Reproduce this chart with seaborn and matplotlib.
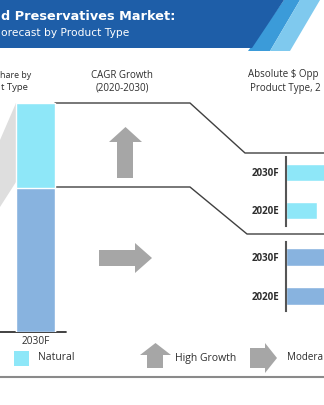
import matplotlib
matplotlib.use("Agg")
import matplotlib.pyplot as plt
import seaborn as sns
import pandas as pd
from matplotlib.patches import Polygon

sns.set_theme(style="white")
plt.rcParams['font.family'] = ['Open Sans', 'DejaVu Sans']

# ---- data ----
stack_years = ["2030F"]
natural_share = [37]
synthetic_share = [63]
total_share = [100]

abs_years = ["2030F", "2020E"]
natural_abs = [55, 31]
synthetic_abs = [80, 66]

CYAN = "#8ee7f8"
BLUE = "#88b3df"
GREY = "#a6a6a6"
TXT = "#2e2e2e"
W, H = 324, 405

fig = plt.figure(figsize=(3.24, 4.05), dpi=100)
fig.patch.set_facecolor("white")

def rect(x0, y0, x1, y1):
    return [x0 / W, 1 - y1 / H, (x1 - x0) / W, (y1 - y0) / H]

# background drawing layer (pixel coords)
bg = fig.add_axes([0, 0, 1, 1])
bg.set_xlim(0, W)
bg.set_ylim(H, 0)
bg.axis("off")

# header banner
bg.add_patch(Polygon([(284, 0), (300, 0), (270, 51), (248, 51)], closed=True, color="#3b9bd9", lw=0))
bg.add_patch(Polygon([(300, 0), (320, 0), (290, 51), (270, 51)], closed=True, color="#7fc9ee", lw=0))
bg.add_patch(Polygon([(0, 0), (284, 0), (252, 48), (0, 48)], closed=True, color="#1e5ea8", lw=0))
bg.text(1, 16, "d Preservatives Market:", color="white", fontsize=9.3, fontweight="bold",
        ha="left", va="center", family=["DejaVu Sans"])
bg.text(1, 33, "orecast by Product Type", color="white", fontsize=7.7,
        ha="left", va="center", family=["DejaVu Sans"])

# column headers (as visible in the cropped reference)
bg.text(31, 75, "hare by", color=TXT, fontsize=6.4, ha="right", va="center")
bg.text(28, 87, "t Type", color=TXT, fontsize=6.8, ha="right", va="center")
bg.text(122, 75, "CAGR Growth", color=TXT, fontsize=7, ha="center", va="center")
bg.text(122, 88, "(2020-2030)", color=TXT, fontsize=7, ha="center", va="center")
bg.text(248, 74, "Absolute $ Opp", color=TXT, fontsize=7, ha="left", va="center")
bg.text(250, 88, "Product Type, 2", color=TXT, fontsize=7, ha="left", va="center")

# grey connector from previous bar
bg.add_patch(Polygon([(16, 103), (16, 182), (0, 207), (0, 140)], closed=True, color="#dedede", lw=0))

# connector lines
bg.plot([55, 190, 245, 324], [103, 103, 153, 153], color="#404040", lw=1)
bg.plot([55, 190, 247, 324], [187, 187, 234, 234], color="#404040", lw=1)

# baseline under stacked bar
bg.plot([0, 66], [332, 332], color="#333333", lw=1.3)

# growth arrows
bg.add_patch(Polygon([(125.5, 127), (142, 142), (133, 142), (133, 178), (117, 178), (117, 142), (109, 142)],
                     closed=True, color=GREY, lw=0))
bg.add_patch(Polygon([(99, 250), (135, 250), (135, 243), (152, 258), (135, 273), (135, 266), (99, 266)],
                     closed=True, color=GREY, lw=0))

# legend
bg.add_patch(Polygon([(14, 351), (29, 351), (29, 366), (14, 366)], closed=True, color=CYAN, lw=0))
bg.text(38, 358, "Natural", color=TXT, fontsize=7.5, ha="left", va="center")
bg.add_patch(Polygon([(155.5, 343), (171, 355), (163, 355), (163, 368), (147, 368), (147, 355), (140, 355)],
                     closed=True, color=GREY, lw=0))
bg.text(175, 358, "High Growth", color=TXT, fontsize=7.5, ha="left", va="center")
bg.add_patch(Polygon([(250, 348), (265, 348), (265, 343), (277, 358), (265, 373), (265, 368), (250, 368)],
                     closed=True, color=GREY, lw=0))
bg.text(287, 358, "Modera", color=TXT, fontsize=7.1, ha="left", va="center")
bg.plot([0, 324], [377, 377], color="#8a8a8a", lw=1.5)

# ---- stacked share bar ----
ax1 = fig.add_axes(rect(0, 103, 71, 332))
df_s = pd.DataFrame({"year": stack_years, "total": total_share, "syn": synthetic_share})
sns.barplot(data=df_s, x="year", y="total", color=CYAN, saturation=1, width=39 / 71, ax=ax1)
sns.barplot(data=df_s, x="year", y="syn", color=BLUE, saturation=1, width=39 / 71, ax=ax1)
ax1.set_xlim(-0.5, 0.5)
ax1.set_ylim(0, 100)
ax1.set_xlabel("")
ax1.set_ylabel("")
ax1.set_yticks([])
ax1.tick_params(axis="x", length=0, pad=3, labelsize=7.3, labelcolor=TXT)
for s in ax1.spines.values():
    s.set_visible(False)
ax1.patch.set_alpha(0)

# ---- absolute opportunity bars ----
def hbar(ax, vals, color, half):
    df = pd.DataFrame({"year": abs_years, "val": vals})
    sns.barplot(data=df, y="year", x="val", color=color, saturation=1, width=0.455, orient="h", ax=ax)
    ax.set_xlim(0, 100)
    ax.set_ylim(1 + half, -half)
    ax.set_xlabel("")
    ax.set_ylabel("")
    ax.set_xticks([])
    ax.tick_params(axis="y", length=0, pad=5, labelsize=7, labelcolor=TXT)
    for lab in ax.get_yticklabels():
        lab.set_fontweight("bold")
    for k in ["top", "right", "bottom"]:
        ax.spines[k].set_visible(False)
    ax.spines["left"].set_color("#555555")
    ax.spines["left"].set_linewidth(1.5)
    ax.patch.set_alpha(0)

ax2 = fig.add_axes(rect(286, 157, 386, 226))
hbar(ax2, natural_abs, CYAN, 15.5 / 38)
ax3 = fig.add_axes(rect(286, 242, 386, 311))
hbar(ax3, synthetic_abs, BLUE, 15 / 39)

fig.savefig("out.png", dpi=100)
